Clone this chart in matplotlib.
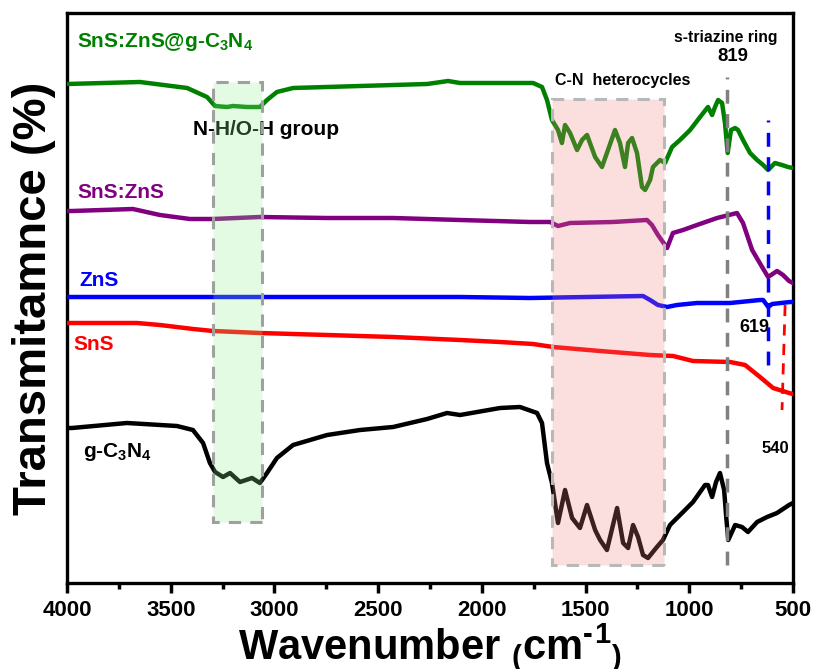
import matplotlib
matplotlib.use("Agg")
import matplotlib.pyplot as plt
from matplotlib.patches import Rectangle

plt.rcParams['font.family'] = ['Liberation Sans', 'DejaVu Sans']
plt.rcParams['font.weight'] = 'bold'
plt.rcParams['mathtext.default'] = 'regular'

# FTIR spectra: wavenumber (cm-1) and stacked transmittance (a.u.)
gcn_wn = [4000, 3976, 3711, 3470, 3393, 3344, 3311, 3286, 3248, 3214, 3166, 3108, 3070, 3036,
          2988, 2910, 2746, 2587, 2428, 2264, 2168, 2105, 1912, 1816, 1734, 1710, 1686, 1662,
          1633, 1599, 1565, 1527, 1493, 1454, 1430, 1397, 1348, 1319, 1295, 1271, 1247, 1223,
          1199, 1156, 1127, 1093, 1030, 982, 924, 910, 890, 871, 852, 832, 822, 812, 779, 746,
          717, 673, 625, 577, 519, 500]
gcn_t = [155, 155, 160, 157, 153, 140, 120, 111, 106, 110, 101, 105, 100, 110,
         125, 138, 148, 153, 156, 164, 170, 168, 175, 176, 170, 160, 120, 100,
         60, 93, 65, 55, 78, 53, 43, 33, 75, 40, 35, 58, 46, 28,
         25, 36, 43, 58, 71, 81, 98, 98, 86, 101, 110, 93, 66, 43, 58, 56,
         51, 61, 66, 70, 78, 80]

sns_wn = [4000, 3663, 3552, 3392, 3296, 3070, 2746, 2428, 2105, 1912, 1753, 1657, 1430, 1189,
          1078, 982, 803, 731, 659, 596, 519, 500]
sns_t = [260, 260, 258, 254, 252, 250, 248, 246, 243, 241, 239, 236, 232, 228,
         227, 222, 221, 218, 206, 195, 190, 189]

zns_wn = [4000, 2877, 2105, 1768, 1223, 1189, 1151, 1107, 1059, 963, 803, 659, 644, 619, 601,
          514, 500]
zns_t = [286, 286, 286, 285, 287, 283, 278, 276, 278, 280, 280, 283, 283, 276, 279,
         281, 281]

snzn_wn = [4000, 3976, 3682, 3552, 3407, 3296, 3070, 2746, 2428, 2105, 1768, 1671, 1633, 1575,
           1368, 1204, 1180, 1151, 1107, 1079, 1030, 963, 866, 770, 741, 697, 649, 620, 577,
           548, 519, 500]
snzn_t = [372, 372, 374, 368, 364, 364, 366, 365, 365, 363, 361, 361, 357, 360,
          361, 363, 358, 348, 335, 350, 353, 358, 365, 370, 360, 333, 316, 306, 312,
          308, 302, 300]

comp_wn = [4000, 3648, 3421, 3325, 3286, 3229, 3200, 3132, 3070, 3036, 2988, 2910, 2587, 2264,
           2163, 2105, 1753, 1710, 1686, 1662, 1633, 1614, 1599, 1575, 1541, 1517, 1493, 1454,
           1421, 1392, 1358, 1334, 1310, 1295, 1276, 1252, 1228, 1213, 1189, 1175, 1141, 1117,
           1083, 1045, 996, 948, 910, 890, 876, 861, 842, 828, 815, 799, 779, 765, 741, 707,
           673, 644, 620, 587, 553, 524, 500]
comp_t = [499, 501, 495, 486, 477, 476, 477, 476, 476, 483, 491, 495, 497, 499,
          502, 500, 500, 496, 483, 463, 453, 440, 458, 450, 433, 443, 448, 426,
          416, 433, 453, 440, 416, 440, 445, 430, 396, 393, 403, 416, 423, 420,
          436, 443, 453, 466, 476, 468, 476, 483, 480, 460, 430, 453, 455, 453, 443, 430,
          423, 418, 413, 420, 418, 416, 415]

series = [
    (gcn_wn, gcn_t, 'black', 'g-C$_3$N$_4$', 3923, 126),
    (sns_wn, sns_t, '#ff0000', 'SnS', 3971, 233),
    (zns_wn, zns_t, '#0000ff', 'ZnS', 3942, 297),
    (snzn_wn, snzn_t, '#800080', 'SnS:ZnS', 3952, 385),
    (comp_wn, comp_t, '#008000', 'SnS:ZnS@g-C$_3$N$_4$', 3952, 536),
]

fig = plt.figure(figsize=(8.13, 6.69), dpi=100)
ax = fig.add_axes([67 / 813, 86 / 669, 726 / 813, 570 / 669])

for wn, t, color, label, lx, ly in series:
    ax.plot(wn, t, color=color, lw=3.2, solid_joinstyle='round', zorder=3)
    ax.text(lx, ly, label, color=color, fontsize=15, fontweight='bold', va='baseline', ha='left')

# highlighted absorption bands
ax.add_patch(Rectangle((3060, 61), 236, 440, facecolor=(0.565, 0.933, 0.565, 0.25),
                       edgecolor='#a0a0a0', lw=2.2, ls=(0, (4, 3)), zorder=4))
ax.add_patch(Rectangle((1122, 18), 540, 466, facecolor=(0.94, 0.50, 0.50, 0.25),
                       edgecolor='#b8b8b8', lw=2.2, ls=(0, (4, 3)), zorder=4))

# marker lines for characteristic peaks
ax.plot([819, 819], [18, 506], color='#808080', lw=2.5, ls=(0, (4, 3)), zorder=5)
ax.plot([619, 619], [218, 463], color='#0000ff', lw=2.5, ls=(0, (4, 3)), zorder=5)
ax.plot([538, 553], [278, 173], color='#ff0000', lw=2.0, ls=(0, (4, 3)), zorder=5)

ax.text(3393, 448, 'N-H/O-H group', fontsize=15, fontweight='bold', color='black')
ax.text(1647, 498, 'C-N  heterocycles', fontsize=11.5, fontweight='bold', color='black')
ax.text(1074, 541, 's-triazine ring', fontsize=11.3, fontweight='bold', color='black')
ax.text(866, 522, '819', fontsize=13.4, fontweight='bold', color='black')
ax.text(760, 251, '619', fontsize=13, fontweight='bold', color='black')
ax.text(650, 130, '540', fontsize=12, fontweight='bold', color='black')

ax.set_xlim(4000, 500)
ax.set_ylim(0, 570)
ax.set_xticks([4000, 3500, 3000, 2500, 2000, 1500, 1000, 500])
ax.set_xticks([3750, 3250, 2750, 2250, 1750, 1250, 750], minor=True)
ax.set_yticks([])
ax.tick_params(axis='x', which='major', direction='out', length=7, width=2.5, pad=5,
               labelsize=16)
ax.tick_params(axis='x', which='minor', direction='out', length=4, width=2.5)
for lab in ax.get_xticklabels():
    lab.set_fontweight('bold')
for sp in ax.spines.values():
    sp.set_linewidth(2.4)

ax.set_ylabel('Transmitamnce (%)', fontsize=34, fontweight='bold', labelpad=8)
ax.set_xlabel('Wavenumber $_($cm$^{\u2010}$$^{1}$$_)$', fontsize=30, fontweight='bold',
              labelpad=0)

fig.savefig('out.png', dpi=100)
